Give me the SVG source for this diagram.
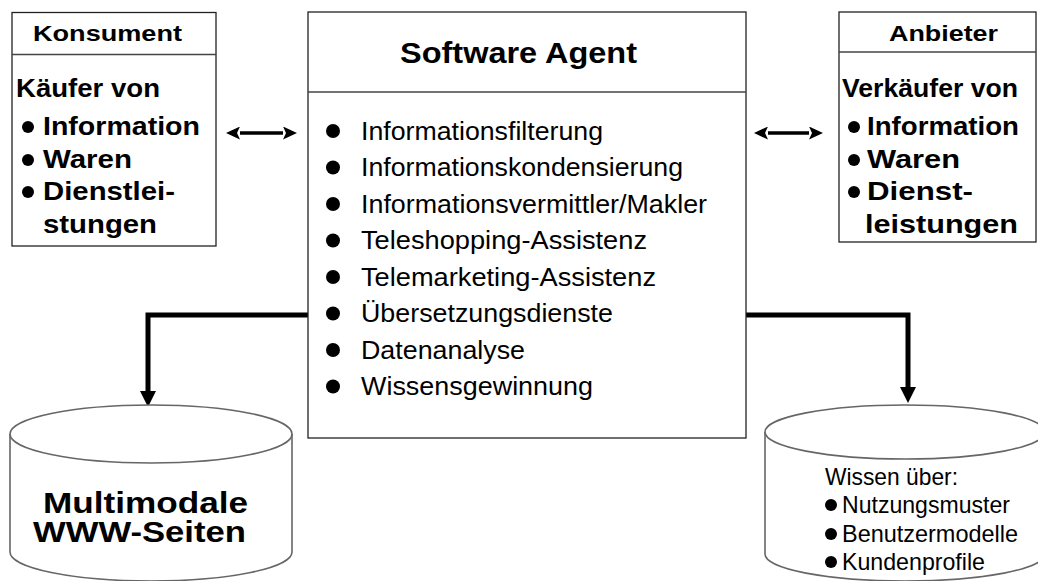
<svg xmlns="http://www.w3.org/2000/svg" width="1038" height="581" viewBox="0 0 1038 581">
<style>
.box{fill:#fff;stroke:#222;stroke-width:1.3}
.div{stroke:#444;stroke-width:1.3}
.cyl{fill:#fff;stroke:#666;stroke-width:1.6}
.b{font-family:"Liberation Sans",Arial,sans-serif;font-weight:bold;fill:#000}
.r{font-family:"Liberation Sans",Arial,sans-serif;fill:#000}
.dot{fill:#000}
.conn{fill:none;stroke:#000;stroke-width:5}
.dbl{fill:none;stroke:#000;stroke-width:3.5}
</style>
<defs>
<marker id="big" markerUnits="userSpaceOnUse" markerWidth="16" markerHeight="16" viewBox="0 0 16 16" refX="0" refY="8" orient="auto">
<path d="M0,0 L16,8 L0,16 z" fill="#000"/>
</marker>
<marker id="sm" markerUnits="userSpaceOnUse" markerWidth="14" markerHeight="13" viewBox="0 0 14 13" refX="0" refY="6.5" orient="auto-start-reverse">
<path d="M0,0 L14,6.5 L0,13 L3,6.5 z" fill="#000"/>
</marker>
</defs>
<rect width="1038" height="581" fill="#fff"/>

<g id="connectors">
<path class="conn" d="M308,315 H148 V391" marker-end="url(#big)"/>
<path class="conn" d="M746,315 H908 V387" marker-end="url(#big)"/>
<path class="dbl" d="M240,133 H283" marker-start="url(#sm)" marker-end="url(#sm)"/>
<path class="dbl" d="M768,133 H809" marker-start="url(#sm)" marker-end="url(#sm)"/>
</g>

<g id="konsument">
<rect class="box" x="12" y="12.5" width="204" height="233.5"/>
<line class="div" x1="12" y1="54.5" x2="216" y2="54.5"/>
<text class="b" x="33" y="41" font-size="22" textLength="149" lengthAdjust="spacingAndGlyphs">Konsument</text>
<text class="b" x="16" y="97" font-size="25" textLength="144" lengthAdjust="spacingAndGlyphs">Käufer von</text>
<circle class="dot" cx="28" cy="127" r="6"/>
<text class="b" x="43" y="135" font-size="25" textLength="157" lengthAdjust="spacingAndGlyphs">Information</text>
<circle class="dot" cx="28" cy="160" r="6"/>
<text class="b" x="43" y="168" font-size="25" textLength="89" lengthAdjust="spacingAndGlyphs">Waren</text>
<circle class="dot" cx="28" cy="192" r="6"/>
<text class="b" x="43" y="200" font-size="25" textLength="132" lengthAdjust="spacingAndGlyphs">Dienstlei-</text>
<text class="b" x="43" y="233" font-size="25" textLength="114" lengthAdjust="spacingAndGlyphs">stungen</text>
</g>

<g id="agent">
<rect class="box" x="308" y="12" width="438" height="426"/>
<line class="div" x1="308" y1="92" x2="746" y2="92"/>
<text class="b" x="400" y="63" font-size="30" textLength="237" lengthAdjust="spacingAndGlyphs">Software Agent</text>
<g class="r" font-size="26.5">
<circle class="dot" cx="333" cy="131" r="7"/>
<text x="361" y="139.5" textLength="242" lengthAdjust="spacingAndGlyphs">Informationsfilterung</text>
<circle class="dot" cx="333" cy="167.5" r="7"/>
<text x="361" y="176" textLength="322" lengthAdjust="spacingAndGlyphs">Informationskondensierung</text>
<circle class="dot" cx="333" cy="204" r="7"/>
<text x="361" y="212.5" textLength="346" lengthAdjust="spacingAndGlyphs">Informationsvermittler/Makler</text>
<circle class="dot" cx="333" cy="240.5" r="7"/>
<text x="361" y="249" textLength="286" lengthAdjust="spacingAndGlyphs">Teleshopping-Assistenz</text>
<circle class="dot" cx="333" cy="277" r="7"/>
<text x="361" y="285.5" textLength="295" lengthAdjust="spacingAndGlyphs">Telemarketing-Assistenz</text>
<circle class="dot" cx="333" cy="313.5" r="7"/>
<text x="361" y="322" textLength="252" lengthAdjust="spacingAndGlyphs">Übersetzungsdienste</text>
<circle class="dot" cx="333" cy="350" r="7"/>
<text x="361" y="358.5" textLength="164" lengthAdjust="spacingAndGlyphs">Datenanalyse</text>
<circle class="dot" cx="333" cy="386.5" r="7"/>
<text x="361" y="395" textLength="232" lengthAdjust="spacingAndGlyphs">Wissensgewinnung</text>
</g>
</g>

<g id="anbieter">
<rect class="box" x="839" y="12" width="197" height="230"/>
<line class="div" x1="839" y1="52" x2="1036" y2="52"/>
<text class="b" x="889" y="41" font-size="22" textLength="109" lengthAdjust="spacingAndGlyphs">Anbieter</text>
<text class="b" x="842" y="97" font-size="25" textLength="176" lengthAdjust="spacingAndGlyphs">Verkäufer von</text>
<circle class="dot" cx="854" cy="127" r="6"/>
<text class="b" x="867" y="135" font-size="25" textLength="152" lengthAdjust="spacingAndGlyphs">Information</text>
<circle class="dot" cx="854" cy="160" r="6"/>
<text class="b" x="867" y="168" font-size="25" textLength="93" lengthAdjust="spacingAndGlyphs">Waren</text>
<circle class="dot" cx="854" cy="192" r="6"/>
<text class="b" x="867" y="200" font-size="25" textLength="106" lengthAdjust="spacingAndGlyphs">Dienst-</text>
<text class="b" x="865" y="233" font-size="25" textLength="153" lengthAdjust="spacingAndGlyphs">leistungen</text>
</g>

<g id="www">
<path class="cyl" d="M10,434 V552 A141,29 0 0 0 292,552 V434"/>
<ellipse class="cyl" cx="151" cy="434" rx="141" ry="29"/>
<text class="b" x="43" y="513" font-size="29" textLength="205" lengthAdjust="spacingAndGlyphs">Multimodale</text>
<text class="b" x="33" y="542" font-size="29" textLength="213" lengthAdjust="spacingAndGlyphs">WWW-Seiten</text>
</g>

<g id="wissen">
<path class="cyl" d="M765,432 V554 A140,27 0 0 0 1045,554 V432"/>
<ellipse class="cyl" cx="905" cy="432" rx="140" ry="27"/>
<g class="r" font-size="24">
<text x="825" y="485" textLength="133" lengthAdjust="spacingAndGlyphs">Wissen über:</text>
<circle class="dot" cx="831" cy="505" r="6"/>
<text x="842" y="513" textLength="168" lengthAdjust="spacingAndGlyphs">Nutzungsmuster</text>
<circle class="dot" cx="831" cy="534" r="6"/>
<text x="842" y="542" textLength="176" lengthAdjust="spacingAndGlyphs">Benutzermodelle</text>
<circle class="dot" cx="831" cy="562" r="6"/>
<text x="842" y="570" textLength="143" lengthAdjust="spacingAndGlyphs">Kundenprofile</text>
</g>
</g>
</svg>
